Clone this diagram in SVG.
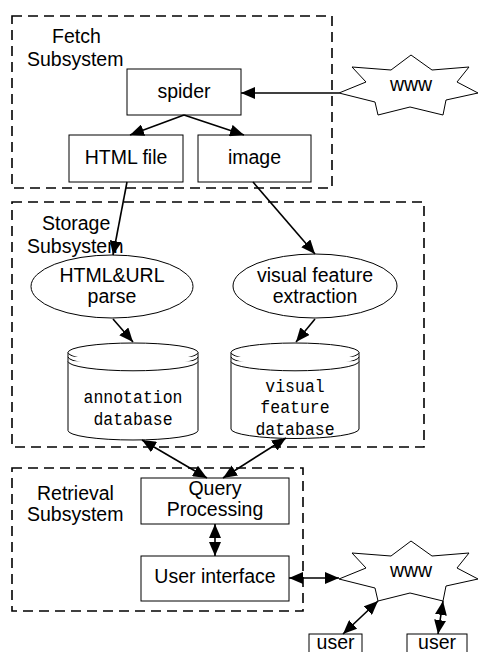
<svg xmlns="http://www.w3.org/2000/svg" width="478" height="652" viewBox="0 0 478 652">
<style>
.sub{fill:none;stroke:#000;stroke-width:1.6;stroke-dasharray:10,6}
.box{fill:#fff;stroke:#000;stroke-width:1}
.t{font-family:"Liberation Sans",Arial,sans-serif;font-size:19.5px;fill:#000}
.c{text-anchor:middle}
.m{font-family:"Liberation Mono","Courier New",monospace;font-size:16.5px;fill:#000;text-anchor:middle}
.edge{fill:none;stroke:#000;stroke-width:1.6}
</style>
<defs>
<marker id="ah" markerUnits="userSpaceOnUse" markerWidth="15" markerHeight="12" refX="14" refY="6" orient="auto-start-reverse">
<path d="M0,0 L14,6 L0,12 z" fill="#000"/>
</marker>
</defs>
<rect width="478" height="652" fill="#fff"/>

<g id="fetch-subsystem">
<rect class="sub" x="12" y="16" width="320" height="172"/>
<text class="t" x="52" y="43">Fetch</text>
<text class="t" x="27" y="66">Subsystem</text>
</g>
<g id="storage-subsystem">
<rect class="sub" x="12" y="202" width="412" height="245"/>
<text class="t" x="42" y="230">Storage</text>
<text class="t" x="27" y="253">Subsystem</text>
</g>
<g id="retrieval-subsystem">
<rect class="sub" x="12" y="468" width="291" height="143"/>
<text class="t" x="37" y="500">Retrieval</text>
<text class="t" x="27" y="521">Subsystem</text>
</g>

<g id="spider">
<rect class="box" x="127" y="69" width="114" height="46"/>
<text class="t c" x="184" y="98">spider</text>
</g>
<g id="html-file">
<rect class="box" x="69" y="135" width="114" height="47"/>
<text class="t c" x="126" y="164">HTML file</text>
</g>
<g id="image">
<rect class="box" x="198" y="135" width="113" height="47"/>
<text class="t c" x="254.5" y="164">image</text>
</g>
<g id="www-top">
<polygon class="box" points="411,55 432,70 469,67 457,82 478,93 446,100 443,115 410,107 378,115 375,102 339,93 366,82 352,67 391,70"/>
<text class="t c" x="411" y="91">www</text>
</g>

<g id="html-url-parse">
<ellipse class="box" cx="112" cy="286.5" rx="81" ry="31.5"/>
<text class="t c" x="112" y="282">HTML&amp;URL</text>
<text class="t c" x="112" y="303">parse</text>
</g>
<g id="visual-feature-extraction">
<ellipse class="box" cx="315" cy="286" rx="82" ry="32"/>
<text class="t c" x="315" y="282">visual feature</text>
<text class="t c" x="315" y="303">extraction</text>
</g>

<g id="annotation-database">
<path class="box" d="M68,352.5 L68,430.5 A65,9.5 0 0 0 198,430.5 L198,352.5"/>
<ellipse class="box" cx="133" cy="352.5" rx="65" ry="9.5"/>
<path class="box" fill="none" d="M68,356.8 A65,9.5 0 0 0 198,356.8"/>
<path class="box" fill="none" d="M68,361.3 A65,9.5 0 0 0 198,361.3"/>
<text class="m" transform="translate(133,403) scale(1,1.15)">annotation</text>
<text class="m" transform="translate(133,425) scale(1,1.15)">database</text>
</g>
<g id="visual-feature-database">
<path class="box" d="M231,352.5 L231,429 A64,9.5 0 0 0 359,429 L359,352.5"/>
<ellipse class="box" cx="295" cy="352.5" rx="64" ry="9.5"/>
<path class="box" fill="none" d="M231,356.8 A64,9.5 0 0 0 359,356.8"/>
<path class="box" fill="none" d="M231,361.3 A64,9.5 0 0 0 359,361.3"/>
<text class="m" transform="translate(295,392) scale(1,1.15)">visual</text>
<text class="m" transform="translate(295,413) scale(1,1.15)">feature</text>
<text class="m" transform="translate(295,435) scale(1,1.15)">database</text>
</g>

<g id="query-processing">
<rect class="box" x="141" y="478" width="148" height="46"/>
<text class="t c" x="215" y="495">Query</text>
<text class="t c" x="215" y="516">Processing</text>
</g>
<g id="user-interface">
<rect class="box" x="141" y="556" width="148" height="45"/>
<text class="t c" x="215" y="583">User interface</text>
</g>
<g id="www-bottom">
<polygon class="box" points="411,541 432,556 469,553 457,568 478,579 446,586 443,601 410,593 378,601 375,588 339,579 366,568 352,553 391,556"/>
<text class="t c" x="411" y="577">www</text>
</g>
<g id="user-1">
<rect class="box" x="309" y="634" width="53" height="30"/>
<text class="t c" x="335.5" y="649">user</text>
</g>
<g id="user-2">
<rect class="box" x="407" y="634" width="60" height="30"/>
<text class="t c" x="437" y="649">user</text>
</g>

<g id="connectors">
<line class="edge" x1="339" y1="93" x2="241" y2="93" marker-end="url(#ah)"/>
<line class="edge" x1="184" y1="115" x2="130" y2="135" marker-end="url(#ah)"/>
<line class="edge" x1="184" y1="115" x2="244" y2="135" marker-end="url(#ah)"/>
<line class="edge" x1="127" y1="182" x2="113" y2="255" marker-end="url(#ah)"/>
<line class="edge" x1="253" y1="182" x2="315" y2="254" marker-end="url(#ah)"/>
<line class="edge" x1="113" y1="319" x2="133" y2="342" marker-end="url(#ah)"/>
<line class="edge" x1="315" y1="319" x2="296" y2="342" marker-end="url(#ah)"/>
<line class="edge" x1="142" y1="440" x2="207" y2="478" marker-start="url(#ah)" marker-end="url(#ah)"/>
<line class="edge" x1="286" y1="438" x2="223" y2="478" marker-start="url(#ah)" marker-end="url(#ah)"/>
<line class="edge" x1="215" y1="524" x2="215" y2="556" marker-start="url(#ah)" marker-end="url(#ah)"/>
<line class="edge" x1="289" y1="578" x2="339" y2="578" marker-start="url(#ah)" marker-end="url(#ah)"/>
<line class="edge" x1="378" y1="601" x2="343" y2="634" marker-start="url(#ah)" marker-end="url(#ah)"/>
<line class="edge" x1="443" y1="601" x2="438" y2="634" marker-start="url(#ah)" marker-end="url(#ah)"/>
</g>
</svg>
